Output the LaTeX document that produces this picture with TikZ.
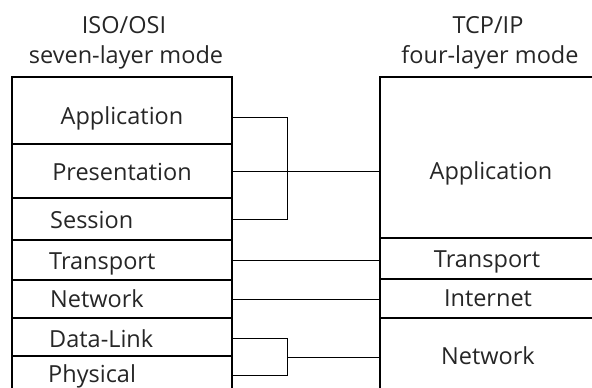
\documentclass[tikz,border=0pt]{standalone}
\usepackage{fontspec}
\setmainfont{Open Sans}
\usetikzlibrary{calc}
\begin{document}
\begin{tikzpicture}[x=1pt,y=-1pt,
  row/.style={draw=black,line width=1.8pt,inner sep=0pt,outer sep=0pt,minimum width=220pt},
  lbl/.style={inner sep=0pt,font=\fontsize{23.5}{28}\selectfont,text=black!85},
  conn/.style={draw=black,line width=0.9pt}]
\useasboundingbox (0,0) rectangle (592,388);
\begin{scope}
\clip (0,0) rectangle (592,388);
% headers
\node[lbl,anchor=base] (h1) at (124,33) {ISO/OSI};
\node[lbl,anchor=base] (h2) at (126,63) {seven-layer mode};
\node[lbl,anchor=base] (h3) at (488,33) {TCP/IP};
\node[lbl,anchor=base] (h4) at (490,63) {four-layer mode};
% left column rows
\node[row,minimum height=67pt] (LA) at (122,110.5) {};
\node[row,minimum height=54pt] (LP) at (122,171) {};
\node[row,minimum height=42pt] (LS) at (122,219) {};
\node[row,minimum height=40pt] (LT) at (122,260) {};
\node[row,minimum height=38pt] (LN) at (122,299) {};
\node[row,minimum height=38pt] (LD) at (122,337) {};
\node[row,minimum height=50pt] (LPh) at (122,381) {};
% right column rows
\node[row,minimum height=161pt] (RA) at (490,157.5) {};
\node[row,minimum height=41pt] (RT) at (490,258.5) {};
\node[row,minimum height=39pt] (RI) at (490,298.5) {};
\node[row,minimum height=82pt] (RN) at (490,359) {};
% left labels
\node[lbl,anchor=base] (LAt) at (122,124) {Application};
\node[lbl,anchor=base] (LPt) at (122,180) {Presentation};
\node[lbl,anchor=base west] (LSt) at (50,228) {Session};
\node[lbl,anchor=base west] (LTt) at (49,269) {Transport};
\node[lbl,anchor=base west] (LNt) at (50,307) {Network};
\node[lbl,anchor=base west] (LDt) at (49,347) {Data-Link};
\node[lbl,anchor=base west] (LPht) at (48,382) {Physical};
% right labels
\node[lbl,anchor=base] (RAt) at (491,179) {Application};
\node[lbl,anchor=base] (RTt) at (487,267) {Transport};
\node[lbl,anchor=base] (RIt) at (488,306) {Internet};
\node[lbl,anchor=base] (RNt) at (488,364) {Network};
% connectors
\coordinate (b1) at (287,0);
\draw[conn] (LAt -| LA.east) -- (LAt -| b1) -- (LSt -| b1) -- (LSt -| LS.east);
\draw[conn] (LPt -| LP.east) -- (LPt -| RA.west);
\draw[conn] (LT.east) -- (LT.east -| RT.west);
\draw[conn] (LN.east) -- (LN.east -| RI.west);
\coordinate (b2) at (287,0);
\coordinate (m2) at ($(LDt)!0.5!(LPht)$);
\draw[conn] (LDt -| LD.east) -- (LDt -| b2) -- (LPht -| b2) -- (LPht -| LPh.east);
\draw[conn] (m2 -| b2) -- (m2 -| RN.west);
\end{scope}
\end{tikzpicture}
\end{document}
